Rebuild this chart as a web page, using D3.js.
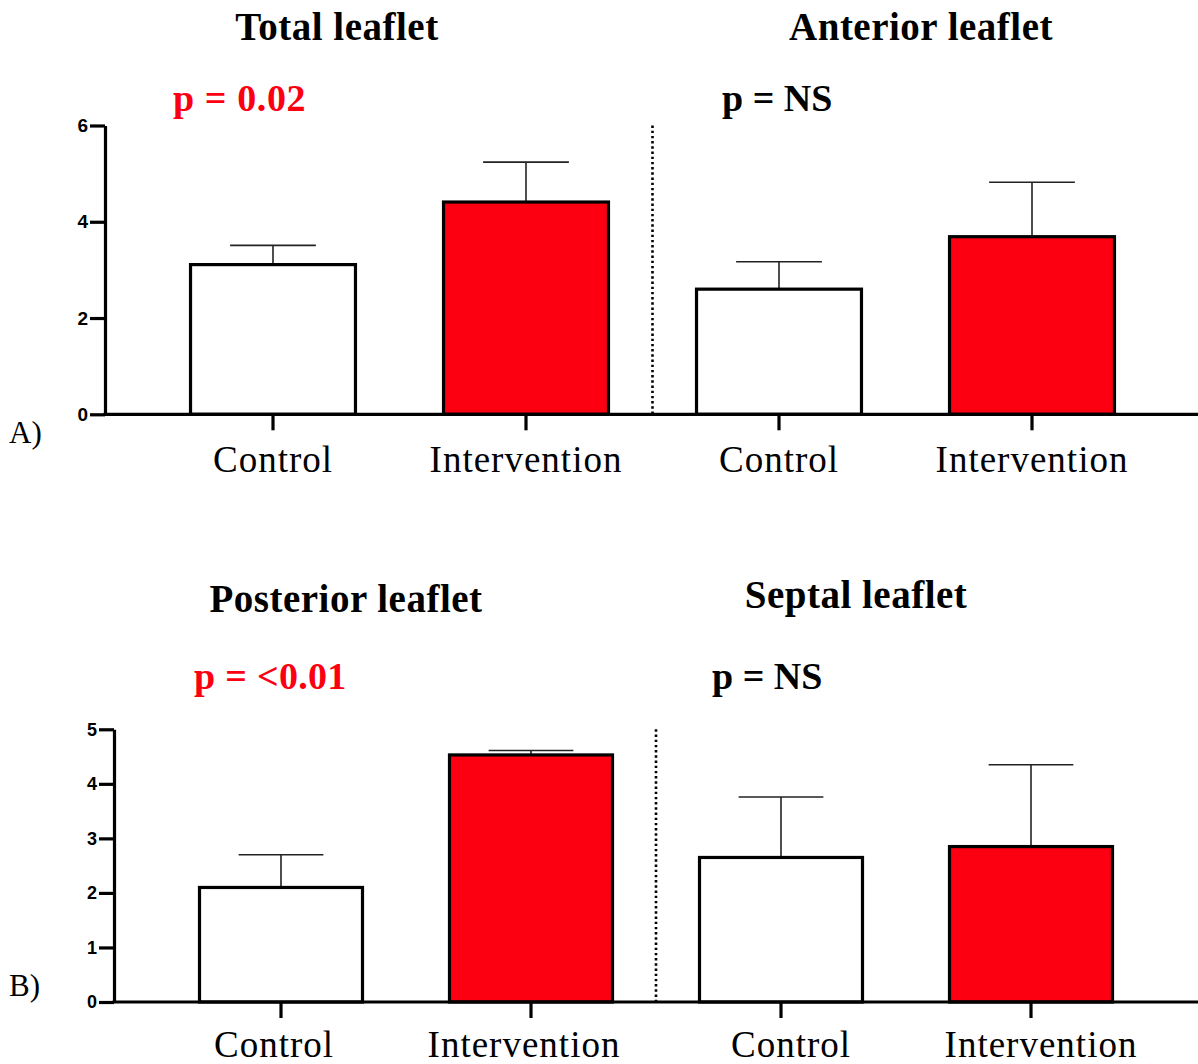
<!DOCTYPE html>
<html>
<head>
<meta charset="utf-8">
<script src="https://cdn.jsdelivr.net/npm/d3@7"></script>
<style>
  html, body { margin: 0; padding: 0; background: #fff; }
  svg { display: block; }
</style>
</head>
<body>
<svg id="chart" width="1198" height="1064"></svg>
<script>
// ---------- DATA ----------
const categories = ["Control", "Intervention"];
const panelLabels = ["A)", "B)"];

const panelATitles = ["Total leaflet", "Anterior leaflet"];
const panelAPValues = ["p = 0.02", "p = NS"];
const panelAMeans  = [3.11, 4.41, 2.60, 3.69];
const panelAErrors = [0.40, 0.83, 0.57, 1.13];
const panelATicks  = [0, 2, 4, 6];

const panelBTitles = ["Posterior leaflet", "Septal leaflet"];
const panelBPValues = ["p = <0.01", "p = NS"];
const panelBMeans  = [2.10, 4.53, 2.65, 2.85];
const panelBErrors = [0.60, 0.08, 1.11, 1.50];
const panelBTicks  = [0, 1, 2, 3, 4, 5];

// ---------- STYLE / LAYOUT ----------
const RED = "#fc0012";
const pColors = [[RED, "#000"], [RED, "#000"]];
const barFills = ["#ffffff", RED];

const panels = [
  {
    label: panelLabels[0], titles: panelATitles, pvals: panelAPValues,
    means: panelAMeans, errors: panelAErrors, ticks: panelATicks,
    axisX: 105, yBottom: 414.3, yTop: 125.5, band: [146.5, 1158.5],
    titleY: [40, 40], titleX: [337, 921], pY: 111, pX: [173, 722],
    catY: 471.7, catShift: [0, 0, 0, 0], labelXY: [9, 443], tickFont: 19,
    colors: pColors[0], pSpacing: ["0.6px", "0px"]
  },
  {
    label: panelLabels[1], titles: panelBTitles, pvals: panelBPValues,
    means: panelBMeans, errors: panelBErrors, ticks: panelBTicks,
    axisX: 114, yBottom: 1002, yTop: 729.3, band: [156, 1156],
    titleY: [612, 608], titleX: [346, 856], pY: 689, pX: [194, 712],
    catY: 1056.7, catShift: [-7, -7, 10, 10], labelXY: [9, 996], tickFont: 18,
    colors: pColors[1], pSpacing: ["0.3px", "0px"]
  }
];

const svg = d3.select("#chart");

panels.forEach(P => {
  const g = svg.append("g");
  const keys = [];
  P.titles.forEach((t, gi) => categories.forEach(c => keys.push(gi + "|" + c)));
  const rows = keys.map((k, i) => ({ key: k, cat: k.split("|")[1], mean: P.means[i], err: P.errors[i], idx: i }));

  const x = d3.scaleBand().domain(keys).range(P.band).paddingInner(0.348).paddingOuter(0.174);
  const yMax = d3.max(P.ticks);
  const y = d3.scaleLinear().domain([0, yMax]).range([P.yBottom, P.yTop]);

  // separator dotted line between the two groups
  const sepX = (x(keys[1]) + x.bandwidth() / 2 + x(keys[2]) + x.bandwidth() / 2) / 2;
  g.append("line")
    .attr("x1", sepX).attr("x2", sepX)
    .attr("y1", y(yMax)).attr("y2", y(0))
    .attr("stroke", "#000").attr("stroke-width", 2.6)
    .attr("stroke-dasharray", "2.4,2.8");

  // error bars
  const capHalf = x.bandwidth() * 0.26;
  const eb = g.selectAll(".eb").data(rows).join("g").attr("class", "eb");
  eb.append("line")
    .attr("x1", d => x(d.key) + x.bandwidth() / 2)
    .attr("x2", d => x(d.key) + x.bandwidth() / 2)
    .attr("y1", d => y(d.mean)).attr("y2", d => y(d.mean + d.err))
    .attr("stroke", "#222").attr("stroke-width", 1.6);
  eb.append("line")
    .attr("x1", d => x(d.key) + x.bandwidth() / 2 - capHalf)
    .attr("x2", d => x(d.key) + x.bandwidth() / 2 + capHalf)
    .attr("y1", d => y(d.mean + d.err)).attr("y2", d => y(d.mean + d.err))
    .attr("stroke", "#222").attr("stroke-width", 1.6);

  // bars
  g.selectAll(".bar").data(rows).join("rect").attr("class", "bar")
    .attr("x", d => x(d.key)).attr("width", x.bandwidth())
    .attr("y", d => y(d.mean)).attr("height", d => y(0) - y(d.mean))
    .attr("fill", d => barFills[categories.indexOf(d.cat)])
    .attr("stroke", "#000").attr("stroke-width", 3.2);

  // x axis line + ticks
  g.append("line")
    .attr("x1", P.axisX - 1.5).attr("x2", 1198)
    .attr("y1", y(0)).attr("y2", y(0))
    .attr("stroke", "#000").attr("stroke-width", 3.2);
  const xAxis = d3.axisBottom(x).tickSize(16).tickSizeOuter(0)
    .tickFormat(k => k.split("|")[1]).tickPadding(0);
  const xg = g.append("g").attr("transform", `translate(0,${y(0)})`).call(xAxis);
  xg.select(".domain").remove();
  xg.selectAll(".tick line").attr("stroke", "#000").attr("stroke-width", 3.2);
  xg.selectAll(".tick text")
    .attr("fill", "#000")
    .attr("font-family", "'Liberation Serif', serif")
    .attr("font-size", 37).attr("letter-spacing", "1px")
    .attr("dy", null)
    .attr("y", P.catY - y(0))
    .attr("x", (k, i) => P.catShift[i]);

  // y axis
  const yAxis = d3.axisLeft(y).tickValues(P.ticks).tickSize(15).tickSizeOuter(0).tickPadding(2)
    .tickFormat(d3.format("d"));
  const yg = g.append("g").attr("transform", `translate(${P.axisX},0)`).call(yAxis);
  yg.select(".domain").attr("stroke", "#000").attr("stroke-width", 3.2);
  yg.selectAll(".tick line").attr("stroke", "#000").attr("stroke-width", 3.2);
  yg.selectAll(".tick text")
    .attr("fill", "#000")
    .attr("font-family", "'Liberation Sans', Arial, sans-serif")
    .attr("font-weight", "bold").attr("font-size", P.tickFont);

  // titles
  P.titles.forEach((t, i) => {
    g.append("text").text(t)
      .attr("x", P.titleX[i]).attr("y", P.titleY[i])
      .attr("text-anchor", "middle")
      .attr("font-family", "'Liberation Serif', serif")
      .attr("font-weight", "bold").attr("font-size", 39)
      .attr("letter-spacing", "0.5px").attr("fill", "#000");
  });
  // p values
  P.pvals.forEach((t, i) => {
    g.append("text").text(t)
      .attr("x", P.pX[i]).attr("y", P.pY)
      .attr("font-family", "'Liberation Serif', serif")
      .attr("font-weight", "bold").attr("font-size", 38)
      .attr("letter-spacing", P.pSpacing[i])
      .attr("fill", P.colors[i]);
  });
  // panel label
  g.append("text").text(P.label)
    .attr("x", P.labelXY[0]).attr("y", P.labelXY[1])
    .attr("font-family", "'Liberation Serif', serif")
    .attr("font-size", 31).attr("fill", "#000");
});
</script>
</body>
</html>
